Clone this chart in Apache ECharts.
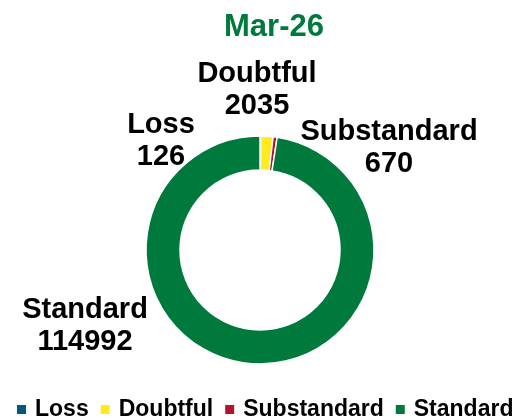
<!DOCTYPE html>
<html>
<head>
<meta charset="utf-8">
<script src="https://cdn.jsdelivr.net/npm/echarts@6/dist/echarts.min.js"></script>
<style>
  html, body { margin: 0; padding: 0; background: #fff; }
  #chart { width: 518px; height: 419px; }
</style>
</head>
<body>
<div id="chart"></div>
<script>
// Loan portfolio classification, Mar-26
const title = 'Mar-26';
const categories = ['Loss', 'Doubtful', 'Substandard', 'Standard'];
const values = [126, 2035, 670, 114992];
const colors = ['#005A7C', '#FFEB1F', '#B5122F', '#007A3C'];

// where each category's text block sits (centre, px)
const labelSpots = {
  'Loss': [161, 141],
  'Doubtful': [257, 90],
  'Substandard': [389, 148],
  'Standard': [85, 326]
};

const chart = echarts.init(document.getElementById('chart'));
const font = 'Liberation Sans, Arial, sans-serif';

chart.setOption({
  animation: false,
  title: {
    text: title,
    left: 269,
    top: 7,
    textAlign: 'center',
    textStyle: { color: '#007A3C', fontSize: 31, fontWeight: 'bold', fontFamily: font }
  },
  legend: {
    data: categories.map(c => ({ name: c, icon: 'rect' })),
    left: 17,
    top: 398,
    width: 510,
    padding: 0,
    itemWidth: 9,
    itemHeight: 9,
    itemGap: 12,
    itemStyle: { borderWidth: 0, borderColor: 'transparent' },
    textStyle: { fontSize: 23, fontWeight: 'bold', color: '#000', fontFamily: font, padding: [0, 0, 0, 4] }
  },
  series: [{
    type: 'pie',
    center: [260, 250],
    radius: [80, 114],
    startAngle: 90,
    clockwise: true,
    avoidLabelOverlap: false,
    itemStyle: { borderColor: '#fff', borderWidth: 1.5 },
    label: {
      show: true,
      position: 'outside',
      formatter: '{b}\n{c}',
      fontSize: 29,
      fontWeight: 'bold',
      lineHeight: 32,
      color: '#000',
      fontFamily: font
    },
    labelLine: { show: false },
    labelLayout: function (params) {
      const name = categories[params.dataIndex];
      const p = labelSpots[name];
      return { x: p[0], y: p[1], align: 'center', verticalAlign: 'middle' };
    },
    data: categories.map((c, i) => ({ name: c, value: values[i], itemStyle: { color: colors[i] } }))
  }]
});
</script>
</body>
</html>
